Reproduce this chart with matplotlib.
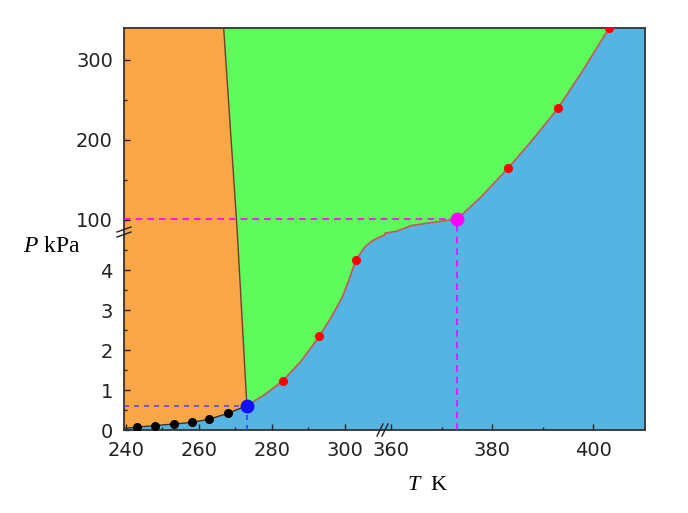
import numpy as np
import matplotlib
matplotlib.use("Agg")
import matplotlib.pyplot as plt
from matplotlib.patches import Polygon
from matplotlib.ticker import FixedLocator, FixedFormatter

plt.rcParams['mathtext.fontset'] = 'custom'
plt.rcParams['mathtext.it'] = 'Liberation Serif:italic'
plt.rcParams['mathtext.rm'] = 'Liberation Serif'

# ---- data ----
# ice / vapour (sublimation) curve
sub_T = [239.5, 243.0, 247.9, 253.2, 258.1, 262.8, 268.1, 273.16]
sub_P = [0.04, 0.07, 0.11, 0.15, 0.19, 0.27, 0.42, 0.61]
# measured points on sublimation curve
sub_dot_T = [243.0, 247.9, 253.2, 258.1, 262.8, 268.1]
sub_dot_P = [0.07, 0.11, 0.15, 0.19, 0.27, 0.42]

# ice / liquid (melting) line
melt_T = [273.16, 270.5, 266.8]
melt_P = [0.61, 5.0, 340]

# liquid / vapour curve
vap_T = [273.16, 278, 283, 288, 293, 296, 299.2, 301, 303, 305.5, 307.5, 309.7, 311,
         358.8, 361.1, 364, 367.1, 370.5, 373.15, 378, 383.2, 388, 393.1, 398, 403.2]
vap_P = [0.61, 0.88, 1.23, 1.72, 2.34, 2.78, 3.3, 3.72, 4.25, 4.58, 4.73, 4.83, 4.88,
         4.92, 4.97, 93.0, 96.0, 99.0, 101.3, 130, 165, 200, 240, 287, 340]
# measured points on the liquid/vapour curve
vap_dot_T = [283, 293, 303, 383.2, 393.1, 403.2]
vap_dot_P = [1.23, 2.34, 4.25, 165, 240, 340]

triple = (273.16, 0.61)
boil = (373.15, 101.3)

x_ticks = [240, 260, 280, 300, 360, 380, 400]
x_minor = [250, 270, 290, 370, 390]
y_ticks = [0, 1, 2, 3, 4, 100, 200, 300]
y_minor = [0.5, 1.5, 2.5, 3.5, 4.5, 150, 250]

x_lim = (239.5, 410.3)
y_lim = (0, 340)

# broken-axis scales: (data breakpoints, screen units)
x_d = [239.5, 311, 358.8, 410.3]
x_s = [0, 261, 261.001, 521]
y_d = [0, 5.0, 87.5, 340]
y_s = [0, 200, 200.001, 402]


def piecewise(d, s):
    d = np.asarray(d, float)
    s = np.asarray(s, float)

    def make(a, b):
        def f(v):
            v = np.asarray(v, float)
            out = np.interp(v, a, b)
            out = np.where(v < a[0], b[0] + (v - a[0]) * (b[1] - b[0]) / (a[1] - a[0]), out)
            out = np.where(v > a[-1], b[-1] + (v - a[-1]) * (b[-1] - b[-2]) / (a[-1] - a[-2]), out)
            return out
        return f
    return make(d, s), make(s, d)


fx, ix = piecewise(x_d, x_s)
fy, iy = piecewise(y_d, y_s)

c_ice = '#f8a646'
c_liq = '#5efc5a'
c_gas = '#55b4e1'

fig = plt.figure(figsize=(6.88, 5.13), dpi=100)
ax = fig.add_axes([124 / 688, 83 / 513, 521 / 688, 402 / 513])
ax.set_xscale('function', functions=(fx, ix))
ax.set_yscale('function', functions=(fy, iy))
ax.set_xlim(*x_lim)
ax.set_ylim(*y_lim)
ax.set_facecolor(c_gas)

# ice region
ice = list(zip(sub_T, sub_P)) + list(zip(melt_T, melt_P))[1:] + [(x_lim[0], y_lim[1])]
ax.add_patch(Polygon(ice, closed=True, facecolor=c_ice, edgecolor='none', zorder=1))
# liquid region
liq = list(zip(melt_T, melt_P)) + list(zip(vap_T, vap_P))[::-1]
ax.add_patch(Polygon(liq, closed=True, facecolor=c_liq, edgecolor='none', zorder=1))

ax.plot(sub_T, sub_P, color='#333333', lw=1.0, zorder=3)
ax.plot(melt_T, melt_P, color='#7a3b2e', lw=1.0, zorder=3)
ax.plot(vap_T, vap_P, color='#c25a55', lw=1.2, zorder=3)

# guide lines
ax.plot([x_lim[0], triple[0]], [triple[1], triple[1]], color='#5a4de0', lw=1.2,
        ls=(0, (3, 3)), zorder=4)
ax.plot([triple[0], triple[0]], [0, triple[1]], color='#2a40ff', lw=1.2,
        ls=(0, (3, 3)), zorder=4)
ax.plot([x_lim[0], boil[0]], [boil[1], boil[1]], color='#ff00ff', lw=1.2,
        ls=(0, (4, 3)), zorder=4)
ax.plot([boil[0], boil[0]], [0, boil[1]], color='#ff00ff', lw=1.2,
        ls=(0, (4, 3)), zorder=4)

ax.plot(sub_dot_T, sub_dot_P, 'o', color='black', ms=5.5, zorder=5)
ax.plot(vap_dot_T, vap_dot_P, 'o', color='red', mec='red', ms=5.5, zorder=5)
ax.plot(*triple, 'o', color='#1010ff', ms=9, zorder=6)
ax.plot(*boil, 'o', color='#ff00ff', ms=9, zorder=6)

ax.xaxis.set_major_locator(FixedLocator(x_ticks))
ax.xaxis.set_major_formatter(FixedFormatter([str(t) for t in x_ticks]))
ax.xaxis.set_minor_locator(FixedLocator(x_minor))
ax.yaxis.set_major_locator(FixedLocator(y_ticks))
ax.yaxis.set_major_formatter(FixedFormatter([str(t) for t in y_ticks]))
ax.yaxis.set_minor_locator(FixedLocator(y_minor))
ax.xaxis.set_minor_formatter(FixedFormatter([]))
ax.yaxis.set_minor_formatter(FixedFormatter([]))
ax.tick_params(which='both', direction='in', top=False, right=False,
               labelsize=14, labelcolor='#222222', color='#222222', width=1)
ax.tick_params(which='major', length=4, pad=8)
ax.tick_params(which='minor', length=2.5)
for s in ax.spines.values():
    s.set_linewidth(1.3)
    s.set_color('#333333')

# break marks
xb = 261 / 521
yb = 200 / 402
for off in (-5, 0):
    ax.plot([xb + (off - 3) / 521, xb + (off + 3) / 521], [-6 / 402, 6 / 402],
            transform=ax.transAxes, color='#222222', lw=1, clip_on=False, zorder=7)
    ax.plot([-7 / 521, 7 / 521], [yb + (off - 2) / 402, yb + (off + 3) / 402],
            transform=ax.transAxes, color='#222222', lw=1, clip_on=False, zorder=7)

fig.text(52 / 688, 1 - 246 / 513, r'$P$ kPa', fontsize=17, family='Liberation Serif',
         ha='center', va='center')
fig.text(428 / 688, 1 - 485 / 513, r'$T$  K', fontsize=16, family='Liberation Serif',
         ha='center', va='center')

fig.savefig('out.png', dpi=100)
